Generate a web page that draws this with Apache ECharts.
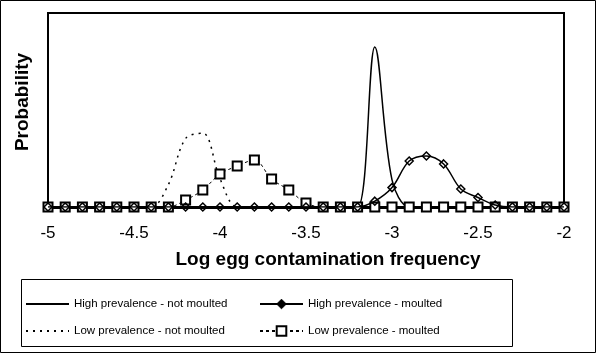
<!DOCTYPE html>
<html>
<head>
<meta charset="utf-8">
<script src="https://cdn.jsdelivr.net/npm/echarts@6/dist/echarts.min.js"></script>
<style>
html,body{margin:0;padding:0;background:#fff;}
#c{width:596px;height:353px;}
</style>
</head>
<body>
<div id="c"></div>
<script>
// x positions (log egg contamination frequency)
var xValues = [-5.0,-4.9,-4.8,-4.7,-4.6,-4.5,-4.4,-4.3,-4.2,-4.1,-4.0,-3.9,-3.8,-3.7,-3.6,-3.5,-3.4,-3.3,-3.2,-3.1,-3.0,-2.9,-2.8,-2.7,-2.6,-2.5,-2.4,-2.3,-2.2,-2.1,-2.0];
// series values (relative probability)
var highNotMoulted = [0,0,0,0,0,0,0,0,0,0,0,0,0,0,0,0,0,0,0,0.825,0.14,0,0,0,0,0,0,0,0,0,0];
var highMoulted    = [0,0,0,0,0,0,0,0,0,0,0,0,0,0,0,0,0,0,0,0.03,0.1,0.237,0.263,0.222,0.093,0.049,0.01,0,0,0,0];
var lowNotMoulted  = [0,0,0,0,0,0,0,0.116,0.353,0.38,0.145,0,0,0,0,0,0,0,0,0,0,0,0,0,0,0,0,0,0,0,0];
var lowMoulted     = [0,0,0,0,0,0,0,0,0.036,0.088,0.17,0.211,0.242,0.144,0.088,0.02,0,0,0,0,0,0,0,0,0,0,0,0,0,0,0];
var seriesNames = ['High prevalence - not moulted','High prevalence - moulted','Low prevalence - not moulted','Low prevalence - moulted'];
var xTicks = [-5,-4.5,-4,-3.5,-3,-2.5,-2];
var xTitle = 'Log egg contamination frequency';
var yTitle = 'Probability';

function pairs(v){ return xValues.map(function(x,i){ return [x, v[i]]; }); }

var chart = echarts.init(document.getElementById('c'), null, {renderer:'canvas'});
var legendCommon = {
  orient: 'vertical', padding: 0, itemWidth: 43, itemHeight: 12, itemGap: 15,
  textStyle: {color:'#000', fontFamily: '"Liberation Sans", Arial', fontSize: 11.5},
  selectedMode: false
};
var noMarker = {color:'transparent', borderColor:'transparent', borderWidth:0};
chart.setOption({
  animation: false,
  color: ['#000','#000','#000','#000'],
  grid: {left: 48, top: 13, right: 32, bottom: 146, show: true, borderColor: '#000', borderWidth: 2, backgroundColor: 'transparent'},
  xAxis: {
    type: 'value', min: -5, max: -2, interval: 0.5,
    axisLine: {show: true, onZero: false, lineStyle: {color:'#000', width: 3}},
    axisTick: {show: false},
    splitLine: {show: false},
    axisLabel: {color:'#000', fontFamily: '"Liberation Sans", Arial', fontSize: 17, margin: 18,
      formatter: function(v){ return xTicks.indexOf(v) >= 0 ? String(v) : ''; }}
  },
  yAxis: {
    type: 'value', min: 0, max: 1,
    axisLine: {show: false}, axisTick: {show: false}, axisLabel: {show: false}, splitLine: {show: false}
  },
  legend: [
    Object.assign({left: 25, top: 298, data: [
      {name: seriesNames[0], itemStyle: noMarker},
      {name: seriesNames[2], itemStyle: noMarker}]}, legendCommon),
    Object.assign({left: 259, top: 298, data: [
      {name: seriesNames[1], itemStyle: {color:'#000', borderColor:'#000', borderWidth:1}},
      {name: seriesNames[3], itemStyle: {color:'#fff', borderColor:'#000', borderWidth:2}}]}, legendCommon)
  ],
  graphic: [
    {type:'rect', shape:{x:0.5, y:0.5, width:595, height:352}, style:{fill:'none', stroke:'#000', lineWidth:1}, silent:true},
    {type:'rect', shape:{x:21.5, y:279.5, width:491, height:67}, style:{fill:'none', stroke:'#000', lineWidth:1}, silent:true},
    {type:'text', x: 328, y: 260, style:{text: xTitle, font: 'bold 19px "Liberation Sans", Arial', fill:'#000', textAlign:'center', textVerticalAlign:'middle'}, silent:true},
    {type:'text', x: 23, y: 102, rotation: Math.PI/2, style:{text: yTitle, font: 'bold 19px "Liberation Sans", Arial', fill:'#000', textAlign:'center', textVerticalAlign:'middle'}, silent:true}
  ],
  series: [
    {name: seriesNames[0], type:'line', data: pairs(highNotMoulted), smooth: 0.35, showSymbol: false, symbol:'none',
      lineStyle:{color:'#000', width:1.5, type:'solid'}, z: 3},
    {name: seriesNames[2], type:'line', data: pairs(lowNotMoulted), smooth: 0.35, showSymbol: false, symbol:'none',
      lineStyle:{color:'#000', width:1.5, type:[2,5]}, z: 3},
    {name: seriesNames[3], type:'line', data: pairs(lowMoulted), smooth: 0.35, symbol:'rect', symbolSize: 9,
      itemStyle:{color:'#fff', borderColor:'#000', borderWidth:2},
      lineStyle:{color:'#000', width:1, type:[3,3]}, z: 4},
    {name: seriesNames[1], type:'line', data: pairs(highMoulted), smooth: 0.35, symbol:'diamond', symbolSize: 8,
      itemStyle:{color:'transparent', borderColor:'#000', borderWidth:1.5},
      lineStyle:{color:'#000', width:1.5, type:'solid'}, z: 5}
  ]
});
</script>
</body>
</html>
